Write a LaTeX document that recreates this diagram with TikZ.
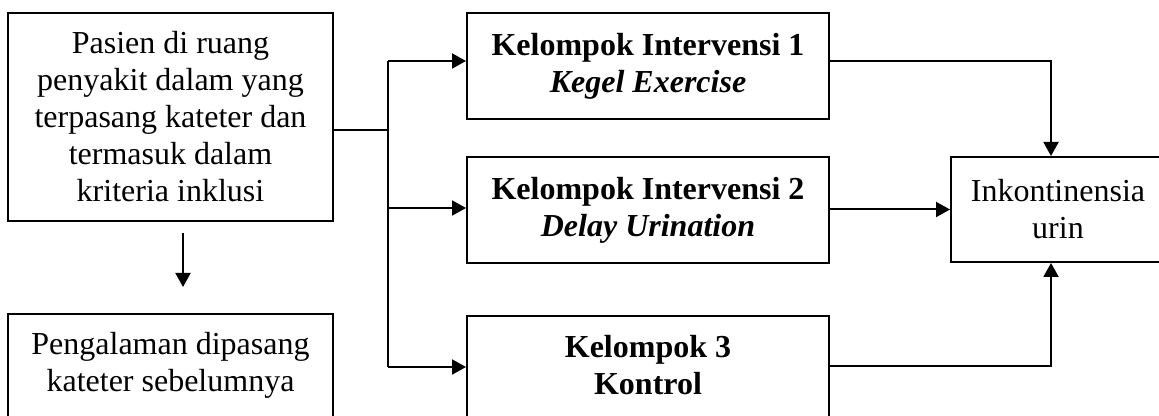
\documentclass[tikz,border=0pt]{standalone}
\usepackage{fontspec}
\setmainfont{Liberation Serif}
\usetikzlibrary{arrows.meta,calc}
\begin{document}
\begin{tikzpicture}[x=0.5pt,y=-0.5pt,
  box/.style={draw, line width=1pt, inner sep=0pt},
  txt/.style={font=\fontsize{16}{18.5}\selectfont, align=center, inner sep=0pt},
  conn/.style={line width=1pt},
  arr/.style={-{Triangle[length=7pt,width=7.5pt]}, line width=1pt}]
\fill[white] (0,0) rectangle (1159,416);
\useasboundingbox (0,0) rectangle (1159,416);
% left boxes
\node[box, txt, minimum width=162.5pt, minimum height=104pt] (A) at (170.5,117)
  {Pasien di ruang\\penyakit dalam yang\\terpasang kateter dan\\termasuk dalam\\kriteria inklusi};
\node[box, minimum width=162.5pt, minimum height=60pt, anchor=north] (B) at (170.5,313) {};
\node[txt] (Bt) at (170.5,365) {Pengalaman dipasang\\kateter sebelumnya};
% middle boxes
\node[box, txt, minimum width=181pt, minimum height=53pt] (G1) at (648,66)
  {\textbf{Kelompok Intervensi 1}\\\textbf{\textit{Kegel Exercise}}};
\node[box, txt, minimum width=181pt, minimum height=53pt] (G2) at (648,210)
  {\textbf{Kelompok Intervensi 2}\\\textbf{\textit{Delay Urination}}};
\node[box, minimum width=181pt, minimum height=60pt, anchor=north] (G3) at (648,315) {};
\node[txt] (G3t) at (648,365) {\textbf{Kelompok 3}\\\textbf{Kontrol}};
% right box
\node[box, txt, minimum width=107pt, minimum height=52.5pt] (R) at (1058,209.5)
  {Inkontinensia\\urin};
% connectors
\coordinate (J) at (388,130);
\coordinate (J1) at (388,61);
\coordinate (J2) at (388,208);
\coordinate (J3) at (388,367);
\draw[conn] (A.east |- J) -- (J);
\draw[conn] (J1) -- (J3);
\draw[arr] (J1) -- (J1 -| G1.west);
\draw[arr] (J2) -- (J2 -| G2.west);
\draw[arr] (J3) -- (J3 -| G3.west);
\coordinate (K1) at (1051,61);
\coordinate (K3) at (1051,366);
\draw[arr] (K1 -| G1.east) -- (K1) -- (K1 |- R.north);
\draw[arr] (G2.east |- R.west) -- (R.west);
\draw[arr] (K3 -| G3.east) -- (K3) -- (K3 |- R.south);
\coordinate (D1) at (183,233);
\coordinate (D2) at (183,287);
\draw[arr] (D1) -- (D2);
\end{tikzpicture}
\end{document}
